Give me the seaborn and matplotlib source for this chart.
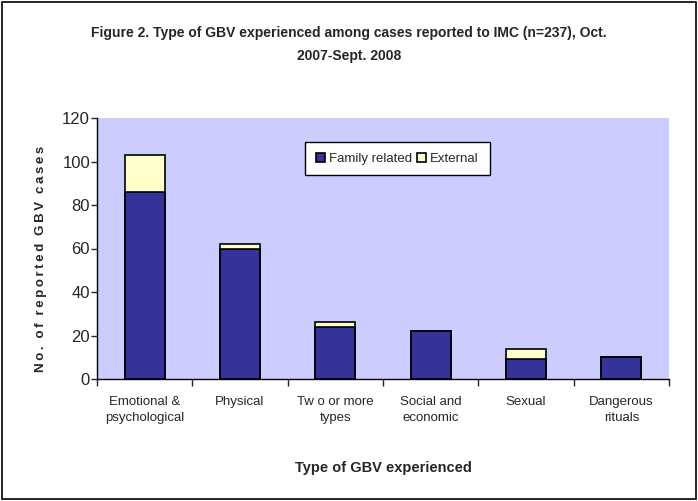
import matplotlib.pyplot as plt
import seaborn as sns
import pandas as pd
from matplotlib.patches import Rectangle

categories = ['Emotional &\npsychological', 'Physical', 'Tw o or more\ntypes',
              'Social and\neconomic', 'Sexual', 'Dangerous\nrituals']
family_related = [86, 60, 24, 22, 9, 10]
external = [17, 2, 2, 0, 5, 0]

sns.set_theme(style='white')
plt.rcParams['font.family'] = ['Liberation Sans', 'DejaVu Sans']

df = pd.DataFrame({'cat': categories, 'family': family_related,
                   'total': [a + b for a, b in zip(family_related, external)]})

fig = plt.figure(figsize=(6.98, 5.01), dpi=100)
ax = fig.add_axes([97 / 698, 1 - 379 / 501, 572 / 698, 261 / 501])
ax.set_facecolor('#CCCCFF')

sns.barplot(data=df, x='cat', y='total', color='#FFFFCC', saturation=1,
            width=0.42, edgecolor='black', linewidth=1.2, ax=ax, label='External')
sns.barplot(data=df, x='cat', y='family', color='#333399', saturation=1,
            width=0.42, edgecolor='black', linewidth=1.2, ax=ax, label='Family related')

ax.set_ylim(0, 120)
ax.set_yticks(range(0, 121, 20))
ax.set_xlim(-0.5, 5.5)
ax.tick_params(axis='y', labelsize=12, length=4, width=1, direction='out', left=True, pad=1)
ax.tick_params(axis='x', labelsize=9.5, length=0, pad=12)
for t in ax.get_xticklabels():
    t.set_linespacing(1.45)
# category separator ticks
ax.set_xticks([i - 0.5 for i in range(7)], minor=True)
ax.tick_params(axis='x', which='minor', length=5, width=1, direction='out', bottom=True)
for s in ['top', 'right']:
    ax.spines[s].set_visible(False)
for s in ['left', 'bottom']:
    ax.spines[s].set_color('black')
    ax.spines[s].set_linewidth(1)

ax.set_xlabel('Type of GBV experienced', fontsize=10.5, fontweight='bold', labelpad=27)
ylab = '\u2009\u2009\u2009'.join('\u2009'.join(w) for w in ['No.', 'of', 'reported', 'GBV', 'cases'])
ax.set_ylabel(ylab, fontsize=9.5, fontweight='bold')
ax.yaxis.set_label_coords(-50 / 572, 0.46)

handles, labels = ax.get_legend_handles_labels()
order = [labels.index('Family related'), labels.index('External')]
leg = ax.legend([handles[i] for i in order], [labels[i] for i in order], ncol=2,
                loc='upper left', bbox_to_anchor=(208 / 572, 1 - 24 / 261),
                frameon=True, fancybox=False, edgecolor='black', framealpha=1,
                fontsize=9.5, handlelength=0.7, handleheight=0.7,
                handletextpad=0.3, columnspacing=0.4, borderpad=0.8, borderaxespad=0)
leg.get_frame().set_linewidth(1)

fig.text(0.5, 1 - 33 / 501, 'Figure 2. Type of GBV experienced among cases reported to IMC (n=237), Oct.',
         ha='center', va='center', fontsize=10, fontweight='bold')
fig.text(0.5, 1 - 56 / 501, '2007-Sept. 2008', ha='center', va='center',
         fontsize=10, fontweight='bold')

fig.patches.append(Rectangle((2 / 698, 2 / 501), 694 / 698, 497 / 501, transform=fig.transFigure,
                             fill=False, edgecolor='black', linewidth=1.2))

plt.savefig('out.png', dpi=100)
